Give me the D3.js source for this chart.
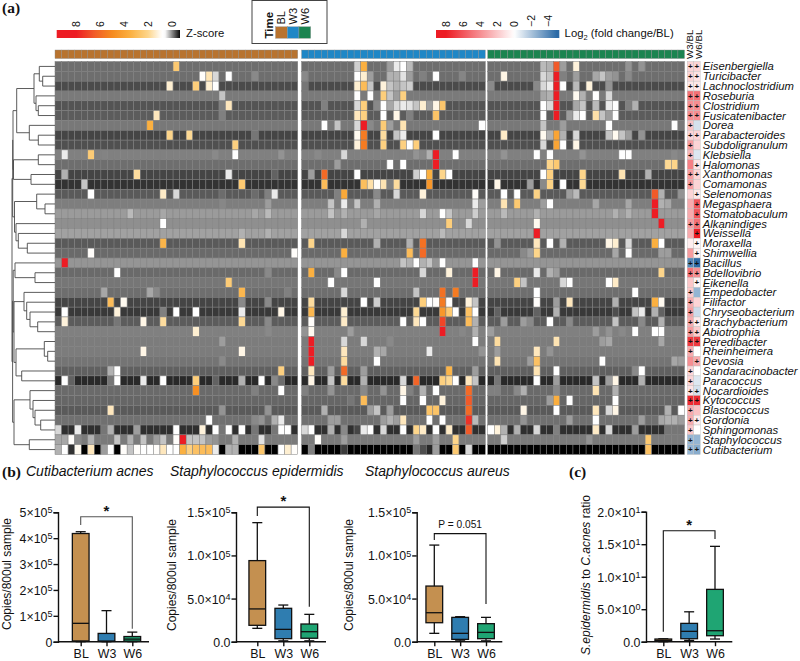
<!DOCTYPE html>
<html>
<head>
<meta charset="utf-8">
<script src="https://cdn.jsdelivr.net/npm/d3@7"></script>
<style>
  body { margin: 0; background: #fff; }
  text { font-family: "Liberation Sans", Arial, sans-serif; fill: #111; }
</style>
</head>
<body>
<div id="chart"></div>
<script>
// ---- heatmap data ----
const taxa = ["Eisenbergiella","Turicibacter","Lachnoclostridium","Roseburia","Clostridium","Fusicatenibacter","Dorea","Parabacteroides","Subdoligranulum","Klebsiella","Halomonas","Xanthomonas","Comamonas","Selenomonas","Megasphaera","Stomatobaculum","Alkanindiges","Weissella","Moraxella","Shimwellia","Bacillus","Bdellovibrio","Eikenella","Empedobacter","Filifactor","Chryseobacterium","Brachybacterium","Abiotrophia","Peredibacter","Rheinheimera","Devosia","Sandaracinobacter","Paracoccus","Nocardioides","Kytococcus","Blastococcus","Gordonia","Sphingomonas","Staphylococcus","Cutibacterium"];
const groups = ["BL","W3","W6"];
const groupCols = [37, 28, 30];

// usual z-score of each taxon, cells that stand out are listed below
const rowBase = [-.14,-.14,-.32,-.08,-.27,-.23,-.09,-.35,-.29,-.05,-.14,-.35,-.44,-.24,-.06,.09,.03,.12,-.24,-.16,.06,-.16,-.10,-.14,-.35,-.41,-.23,-.05,-.07,-.07,-.11,-.21,-.49,-.16,-.18,-.24,-.13,-.46,-.08,-.7];

// [row, column, z]
const blCells = [
 [0,18,2.5],
 [1,22,.9],[1,23,1.6],[1,24,.4],[1,26,.75],[1,30,0],
 [2,17,1.3],[2,21,2.3],[2,23,1.3],[2,24,.8],
 [3,25,.3],[4,26,1.5],[4,25,-.05],[5,15,1.5],[5,25,-.05],[6,14,3.5],
 [7,17,2],[7,20,1.9],[7,30,-.1],[8,27,2.2],
 [9,1,.5],[9,5,2.4],[9,6,-.05],[9,7,-.03],[9,24,0],[9,27,.75],[9,34,.05],
 [11,1,.2],[11,12,1.8],[11,26,.5],[11,33,-.2],
 [12,4,.3],[12,28,2.5],
 [13,5,.75],[13,16,1.4],[13,18,.4],[13,25,-.15],[13,30,-.15],[13,32,-.05],[13,33,.5],
 [14,25,-.01],[14,32,.1],
 [15,11,.25],[15,16,.15],[15,30,.15],[15,32,.25],
 [16,16,.75],[17,28,.2],[17,32,.2],
 [18,16,3.3],[18,28,1.6],[19,5,.9],[19,36,.9],[20,1,8],
 [21,9,.75],[21,32,0],[22,26,2.4],
 [23,7,.15],[23,14,.15],[23,15,0],[23,28,3.2],[23,35,-.05],
 [24,8,3],[24,10,1],[24,28,0],[24,32,0],
 [25,1,.75],[25,9,1.2],[25,16,-.05],[25,18,.75],[25,21,.75],[25,28,.5],[25,34,1.1],
 [26,1,1.2],[26,9,-.1],[26,13,1.1],[26,16,1.8],[26,28,1.9],[26,32,0],
 [27,21,1.3],[27,32,0],[28,25,.1],[29,13,1.1],[29,28,1.1],[30,25,0],
 [31,8,.2],[31,9,.8],[31,34,2.2],
 [32,1,.75],[32,2,-.2],[32,8,-.1],[32,9,.75],[32,13,.5],[32,16,.75],[32,21,2.3],[32,24,-.2],[32,28,.2],[32,31,.75],[32,33,0],[32,34,-.15],
 [33,21,4.8],[33,30,-.05],[33,34,.75],
 [35,8,1.5],[35,25,.05],[35,32,.05],
 [36,23,.75],[36,30,0],[36,31,.05],[36,33,.2],[36,34,.5],
 [37,0,.4],[37,3,.5],[37,7,-.1],[37,8,.2],[37,12,.1],[37,18,.75],[37,22,1.2],[37,24,.75],[37,25,-.1],[37,26,.75],[37,28,.75],[37,30,-.1],[37,33,-.1],[37,34,.6],[37,35,.8],
 [38,0,.15],[38,1,.15],[38,2,.9],[38,3,0],[38,5,.2],[38,9,.3],[38,11,.2],[38,13,.3],[38,15,.1],[38,16,.3],[38,18,.9],[38,19,8],[38,20,.3],[38,21,.3],[38,22,.3],[38,23,.1],[38,24,.05],[38,27,.2],[38,31,.45],
 [39,0,.2],[39,1,.8],[39,2,-.45],[39,3,1],[39,5,1.5],[39,7,.1],[39,8,.8],[39,10,.9],[39,11,.3],[39,12,.9],[39,13,.85],[39,14,.85],[39,15,.9],[39,16,1.5],[39,17,.8],[39,18,.85],[39,19,3.5],[39,20,2.2],[39,21,2.8],[39,22,3],[39,23,3],[39,24,.5],[39,26,.2],[39,27,.2],[39,31,2.6],[39,34,.8],[39,35,1.3],[39,36,.9]
];
const w3Cells = [
 [0,8,.35],[0,9,3.5],[0,13,.1],[0,14,.5],[0,15,.75],[0,16,.25],
 [1,0,0],[1,8,.75],[1,9,1.3],[1,10,.1],[1,13,.2],[1,14,.2],[1,15,.45],[1,16,.1],[1,18,-.05],[1,20,.8],[1,24,-.02],
 [2,0,-.1],[2,8,1.3],[2,9,3],[2,10,.3],[2,12,1.2],[2,13,.3],[2,14,.2],[2,15,.3],[2,16,.35],
 [3,8,.75],[3,10,.75],[3,12,2.3],[3,13,.3],[3,14,.1],[3,15,2.2],
 [4,3,-.05],[4,8,.4],[4,9,2.3],[4,11,0],[4,12,.7],[4,13,.15],[4,14,.4],[4,15,.5],[4,16,.45],[4,17,.3],[4,18,1.3],[4,19,.1],[4,20,1.1],[4,21,2.6],
 [5,8,1.5],[5,9,2.2],[5,12,.75],[5,14,1.1],[5,16,-.05],[5,20,2.7],
 [6,3,.75],[6,5,.3],[6,8,.4],[6,9,8],[6,10,0],[6,12,2.4],[6,13,.1],[6,15,1.6],[6,27,.8],
 [7,8,1],[7,9,5.5],[7,12,1.8],[7,14,.3],[7,15,.5],[7,20,.85],
 [8,8,1.2],[8,9,5.5],[8,12,2.2],[8,15,2.2],[8,16,.85],[8,17,2.3],
 [9,1,-.05],[9,2,0],[9,3,-.05],[9,6,.4],[9,17,.05],[9,18,0],[9,19,.2],[9,20,8],[9,23,.85],
 [10,5,.1],[10,13,.8],[10,15,.8],[10,20,8],
 [11,1,.1],[11,3,6],[11,8,.8],[11,17,.35],[11,18,.8],[11,19,3.5],[11,21,2],[11,22,.85],
 [12,3,3],[12,9,2.9],[12,10,1.7],[12,11,.9],[12,12,1.6],[12,13,-.05],[12,14,1.8],[12,19,4.5],
 [13,5,-.05],[13,6,3.8],[13,11,0],[13,14,.4],[13,18,1.2],[13,26,.9],
 [14,4,.3],[14,6,.5],[14,8,.3],[14,11,.2],[14,26,.5],[14,27,.1],
 [15,4,.3],[15,6,.2],[15,11,.15],[15,18,.4],[15,21,.75],[15,22,.3],[15,26,.35],
 [16,9,.2],[16,22,2.3],[16,25,.4],[17,6,.4],[17,21,.25],
 [18,1,2],[18,11,.2],[18,16,.2],[18,18,5.8],[19,6,3.5],[19,16,3],[19,18,6],
 [20,15,.3],[20,16,.2],[20,17,.75],[20,18,.2],[20,19,.3],[20,21,.8],[20,26,.75],
 [21,1,3.5],[21,5,0],[21,6,.8],[21,18,.4],[21,22,1.2],[21,26,8],
 [22,4,.8],[22,11,.8],[22,26,8],
 [23,6,.4],[23,17,.3],[23,21,5.8],[23,23,5.5],
 [24,1,1.8],[24,9,.85],[24,11,.35],[24,18,2.3],[24,19,.75],[24,20,.9],[24,21,5.5],[24,22,.9],[24,25,1.2],[24,26,.3],
 [25,1,3.2],[25,6,1.3],[25,17,1.9],[25,21,4.5],[25,22,2.5],[25,23,.8],[25,25,2.8],[25,26,.8],
 [26,1,.9],[26,6,1.4],[26,15,.6],[26,17,1.5],[26,18,.75],[26,21,7],[26,25,3],[26,26,.2],
 [27,0,.05],[27,1,1],[27,7,.1],[27,21,8],[27,24,-.01],[27,26,.2],
 [28,1,8],[28,6,.4],[28,9,.4],[28,13,0],[28,26,.6],
 [29,1,8],[29,6,1.5],[29,11,.2],[29,12,.15],[29,19,.5],[29,27,.05],
 [30,1,8],[30,6,1.8],[30,11,.8],
 [31,1,1.5],[31,4,.1],[31,6,6],[31,9,.1],[31,22,3.3],[31,26,.1],
 [32,1,1.1],[32,4,.3],[32,6,1.8],[32,9,.2],[32,15,.4],[32,17,6.2],[32,21,2.2],[32,22,1.9],[32,23,.85],[32,25,1.5],[32,26,.3],
 [33,0,-.05],[33,4,.05],[33,9,0],[33,12,.05],[33,15,1.1],[33,16,-.05],[33,18,.2],[33,20,.85],[33,25,6],
 [34,7,-.1],[34,9,3],[34,15,.8],[34,18,.8],[34,21,1.2],[34,25,6.5],
 [35,3,.2],[35,10,.1],[35,11,.3],[35,13,.1],[35,19,2.7],[35,20,2.7],[35,25,6],
 [36,4,.1],[36,5,.1],[36,12,.1],[36,13,.2],[36,14,.1],[36,15,1.5],[36,19,.75],[36,21,.85],[36,25,7.5],[36,26,.25],
 [37,0,.4],[37,1,.75],[37,4,.2],[37,6,0],[37,8,-.35],[37,9,.5],[37,10,.6],[37,12,.4],[37,15,.75],[37,17,2],[37,18,1.4],[37,20,.85],[37,22,1.4],[37,25,6.5],
 [38,2,.9],[38,6,.1],[38,17,.1],[38,20,.1],[38,23,2],
 [39,1,-.05],[39,6,-.4],[39,17,-.1],[39,18,-.3],[39,19,-.5],[39,20,.1],[39,23,2.5],[39,25,.4]
];
const w6Cells = [
 [0,8,.25],[0,9,.2],[0,10,6.5],[0,11,.1],[0,13,1.2],[0,21,.05],[0,23,.05],
 [1,2,1.1],[1,8,.4],[1,9,.3],[1,10,8],[1,11,-.05],[1,13,.1],[1,16,.15],[1,17,.3],[1,18,.1],[1,19,.05],[1,21,0],
 [2,0,0],[2,7,0],[2,8,.4],[2,9,.5],[2,10,8],[2,11,.75],[2,13,.25],[2,15,1.2],[2,18,.05],
 [3,8,.15],[3,9,.2],[3,10,8],[3,13,1],[3,14,.2],[3,16,.75],[3,18,.4],
 [4,8,.75],[4,9,.4],[4,10,8],[4,13,.15],[4,14,.3],[4,16,.25],[4,18,.5],[4,19,.75],[4,21,-.05],[4,22,.2],
 [5,8,.75],[5,10,8],[5,12,.1],[5,13,.5],[5,14,.75],[5,16,1.7],[5,17,.3],[5,18,.1],[5,19,.75],
 [6,8,.3],[6,11,.1],[6,18,.75],[6,28,.75],
 [7,2,1.4],[7,8,1],[7,9,.2],[7,10,4],[7,11,.2],[7,13,.4],[7,18,.3],[7,19,1],[7,20,.3],[7,21,.1],[7,23,.05],
 [8,8,.4],[8,10,4],[8,11,.8],[8,13,1.1],
 [9,2,.05],[9,7,.75],[9,9,.6],[9,14,.05],[9,20,.75],[9,21,.75],[9,28,0],[9,29,-.03],
 [10,9,2],[10,10,2.5],[10,27,1.9],[10,28,2],
 [11,8,.85],[11,9,2.2],[11,14,2],[11,20,1.6],[11,24,.2],
 [12,1,1.1],[12,6,.1],[12,8,0],[12,9,2.1],[12,11,.85],[12,14,1.9],
 [13,2,.75],[13,4,.85],[13,7,2.1],[13,12,.1],[13,13,.25],[13,25,6.5],[13,26,.2],[13,29,.05],
 [14,2,1.6],[14,4,2.5],[14,8,.1],[14,9,.6],[14,16,.15],[14,21,.15],[14,25,8],[14,26,.2],[14,27,.15],
 [15,2,.25],[15,7,.2],[15,19,.2],[15,21,.2],[15,25,8],
 [16,7,1],[16,26,8],[17,7,8],
 [18,1,.05],[18,7,1.5],[18,9,.6],[18,11,.2],[18,18,1.1],[18,19,1.3],[18,21,.4],[18,25,3.5],[18,26,.7],
 [19,5,0],[19,6,.1],[19,7,2],[19,19,.15],[19,21,.75],[19,26,.1],[19,27,.1],
 [21,1,1.1],[21,7,.5],[21,9,.2],[21,10,.1],[21,26,2],
 [22,4,2.2],[22,5,.3],[22,11,.4],[22,12,.8],[22,18,.75],[22,19,1.4],
 [23,7,.75],[23,22,.7],
 [24,7,.9],[24,10,.1],[24,12,1.5],[24,19,.2],[24,25,3.5],[24,26,1],
 [25,1,-.2],[25,7,-.2],[25,10,.2],[25,19,-.3],[25,22,.3],[25,23,.5],[25,25,.2],[25,26,-.2],
 [26,2,.1],[26,5,.1],[26,6,0],[26,9,.85],[26,12,0],[26,19,.3],[26,23,0],[26,26,.2],
 [27,0,.1],[27,16,.1],[27,18,.05],[27,20,0],[27,22,.75],[27,25,.8],[27,26,.75],
 [28,1,1.8],[28,10,1.6],[28,17,.1],[28,18,.15],[28,26,.15],
 [29,1,.1],[29,7,1.5],[29,9,.05],
 [30,1,1.6],[30,6,.1],[30,7,2.8],[30,17,.6],[30,28,.15],[30,29,.1],
 [31,7,1.6],[31,10,.85],[31,22,0],[31,23,.7],
 [32,1,-.1],[32,7,.85],[32,10,.1],[32,16,.3],[32,18,.1],[32,19,1.1],[32,23,.2],
 [33,0,-.05],[33,1,-.05],[33,4,0],[33,5,.2],[33,10,0],[33,16,1.6],[33,19,.2],
 [34,9,.1],[34,10,3.6],[34,12,.85],[34,19,.75],
 [35,5,1.1],[35,10,.85],[35,16,1.5],[35,18,.4],[35,19,1.1],[35,27,.2],[35,29,.85],
 [36,5,.05],[36,12,.1],[36,16,.75],[36,23,.1],[36,26,.15],[36,27,.2],[36,28,.2],[36,29,.1],
 [37,0,.8],[37,1,1.2],[37,2,.2],[37,4,.2],[37,7,.4],[37,10,-.05],[37,16,1.4],[37,18,.4],[37,22,.1],[37,27,-.1],[37,28,-.1],[37,29,-.1],
 [38,2,.35],[38,15,.05],[38,24,2.5],
 [39,24,2.8]
];
const cellsByGroup = [blCells, w3Cells, w6Cells];

// log2 fold change against baseline, and which of them carry a plus
const foldW3 = [1.5,1.5,.8,5,4,4,2.2,1.5,3.5,2.5,4.5,3.5,3.5,1.5,3,3,3.5,3,.6,3.5,-4,5,2,2,3,3.5,3,3.5,7,3,4,1.5,1.5,1,7.5,3,3,2,-2.5,-2.5];
const foldW6 = [1.5,1,.8,5,4,4,-1,1.5,1.5,-.8,1,1.5,1.5,.8,6,6,5,8,.3,.5,-7,4,.4,-2.5,1.5,-1.2,.7,1.8,7,0,3,0,-.8,-1,7.5,2.2,.7,0,-2.5,-2.8];
const plusW3 = [1,1,1,1,1,1,1,1,1,1,0,1,1,0,0,0,1,0,0,0,1,1,0,1,1,1,1,1,1,1,0,1,1,1,1,1,1,1,1,1];
const plusW6 = [1,1,1,1,1,1,0,1,0,0,1,1,0,1,1,1,1,1,1,1,1,1,1,0,0,0,1,1,1,0,1,0,0,1,1,0,1,0,0,1];

// merges of the row tree: [height, left, right], a plain number is a row
const rowTree = [43,
  [42.3,
    [42,
      [38.3,
        [21, [15.7, 0, [12.3, 1, 2]], [19, 3, [16.7, 4, 5]]],
        [25.7, 6, [16.7, 7, 8]]],
      [41.5, [16.7, 9, 10], [24, 11, 12]]],
    [40.5,
      [18.3, 13, [10, 14, 15]],
      [39, 16, [36.7, 17, [27.7, 18, 19]]]]],
  [42.4,
    [41.8,
      [40, 20, [20, 21, 22]],
      [41,
        [31, 23, [28.3, 24, [25, 25, [17.3, 26, 27]]]],
        [39, [10.7, 28, [7.3, 29, 30]], [33.3, 31, 32]]]],
    [41,
      [25, 33, [22, 34, [20, 35, [14.3, 36, 37]]]],
      [25.7, 38, 39]]]
];

// ---- legends ----
const zStops = [-.7, .6, .85, 2, 3.5, 5, 6.5, 8];
const zColors = ["#000000", "#ffffff", "#ffffff", "#fdd58a", "#fbb040", "#f68b1f", "#f15a29", "#ed1c24"];
const zTicks = [8, 6, 4, 2, 0];
const fcStops = [-5, 0, 8];
const fcColors = ["#2b6aa6", "#ffffff", "#ed1c24"];
const fcTicks = [8, 6, 4, 2, 0, -2, -4];
const groupColors = ["#b8732f", "#1f87c6", "#1b8450"];

// ---- copies / ratio box plots: [low, q1, median, q3, high] ----
const boxCats = ["BL", "W3", "W6"];
const boxFills = ["#c49050", "#2f7db0", "#1fa573"];
const acnesBoxes = [[0, 3e3, 7.1e4, 4.18e5, 4.25e5], [0, 1e3, 2e3, 3.2e4, 1.2e5], [0, 2e3, 1e4, 2e4, 3.7e4]];
const epiBoxes = [[1.55e4, 1.9e4, 3.8e4, 9.4e4, 1.38e5], [1e3, 3.5e3, 1.43e4, 3.87e4, 4.25e4], [1e3, 4e3, 1.16e4, 2.05e4, 3.17e4]];
const aureusBoxes = [[9.7e3, 2.2e4, 3.36e4, 6.45e4, 1.12e5], [1e3, 2.7e3, 9.7e3, 2.82e4, 2.9e4], [1e3, 3.5e3, 1.08e4, 2.09e4, 2.82e4]];
const ratioBoxes = [[0, .05, .2, .41, .45], [.2, .46, 1.59, 2.82, 4.6], [.41, .92, 1.69, 8.05, 14.67]];
const acnesTicks = [0, 1e5, 2e5, 3e5, 4e5, 5e5];
const acnesLabels = [["0"], ["1×10", "5"], ["2×10", "5"], ["3×10", "5"], ["4×10", "5"], ["5×10", "5"]];
const copyTicks = [0, 5e4, 1e5, 1.5e5];
const copyLabels = [["0.0"], ["5.0×10", "4"], ["1.0×10", "5"], ["1.5×10", "5"]];
const ratioTicks = [0, 5, 10, 15, 20];
const ratioLabels = [["0.0"], ["5.0×10", "0"], ["1.0×10", "1"], ["1.5×10", "1"], ["2.0×10", "1"]];
// bracket: [left foot, top, right foot] in axis units
const acnesBracket = [4.51e5, 4.83e5, 0.5e5];
const epiBracket = [1.457e5, 1.56e5, 0.406e5];
const aureusBracket = [1.18e5, 1.253e5, 0.437e5];
const ratioBracket = [1.54, 17.08, 15.8];

const svg = d3.select("#chart").append("svg").attr("width", 800).attr("height", 661);
const defs = svg.append("defs");

const zColor = d3.scaleLinear().domain(zStops).range(zColors).clamp(true);
const fcColor = d3.scaleLinear().domain(fcStops).range(fcColors).clamp(true);

// panel letters
function panelLetter(s, x, y) {
  svg.append("text").attr("x", x).attr("y", y).text(s)
    .style("font-family", "'Liberation Serif', serif").style("font-weight", "bold").style("font-size", "15.5px");
}
panelLetter("(a)", 2, 13);
panelLetter("(b)", 2, 477);
panelLetter("(c)", 569, 477);

// ---- heatmap ----
const cellW = 6.56;
const groupX = [55, 301.6, 487.7];
const y = d3.scaleBand().domain(d3.range(taxa.length)).range([61.5, 454.5]);
const heat = svg.append("g");

groups.forEach((g, i) => {
  const n = groupCols[i];
  const x = d3.scaleBand().domain(d3.range(n)).range([groupX[i], groupX[i] + n * cellW]);
  const over = new Map(cellsByGroup[i].map(d => [d[0] + "_" + d[1], d[2]]));
  // annotation strip
  heat.append("g").selectAll("rect").data(d3.range(n)).join("rect")
    .attr("x", d => x(d)).attr("y", 50).attr("width", x.bandwidth()).attr("height", 8.5)
    .attr("fill", groupColors[i]).attr("stroke", "#8c8c8c").attr("stroke-width", 0.4);
  const cells = d3.cross(d3.range(taxa.length), d3.range(n));
  heat.append("g").selectAll("rect").data(cells).join("rect")
    .attr("x", d => x(d[1])).attr("y", d => y(d[0]))
    .attr("width", x.bandwidth()).attr("height", y.bandwidth())
    .attr("fill", d => {
      const k = d[0] + "_" + d[1];
      return zColor(over.has(k) ? over.get(k) : rowBase[d[0]]);
    })
    .attr("stroke", "#7f7f7f").attr("stroke-width", 0.5);
});

// row labels
svg.append("g").selectAll("text").data(taxa).join("text")
  .attr("x", 702.8).attr("y", (d, i) => y(i) + y.bandwidth() / 2 + 4)
  .style("font-style", "italic").style("font-size", "11.3px").text(d => d);

// fold change columns
const foldX = d3.scaleBand().domain(["W3/BL", "W6/BL"]).range([687.2, 700.2]);
[[foldW3, plusW3, "W3/BL", 3], [foldW6, plusW6, "W6/BL", 4.6]].forEach(([vals, plus, name, nudge]) => {
  const g = svg.append("g");
  g.selectAll("rect").data(vals).join("rect")
    .attr("x", foldX(name)).attr("y", (d, i) => y(i))
    .attr("width", foldX.bandwidth()).attr("height", y.bandwidth())
    .attr("fill", d => fcColor(d)).attr("stroke", "#bdbdbd").attr("stroke-width", 0.4);
  g.selectAll("text").data(plus).join("text")
    .attr("x", foldX(name) + foldX.bandwidth() / 2).attr("y", (d, i) => y(i) + y.bandwidth() / 2 + 2.9)
    .attr("text-anchor", "middle").style("font-size", "8px").style("font-weight", "bold")
    .text(d => d ? "+" : "");
  svg.append("text")
    .attr("transform", `translate(${foldX(name) + foldX.bandwidth() / 2 + nudge},59) rotate(-90)`)
    .style("font-size", "9.8px").text(name);
});

// dendrogram
const dendroX = d3.scaleLinear().domain([0, 43]).range([55, 12]);
const dendro = svg.append("g").attr("fill", "none").attr("stroke", "#4a4a4a").attr("stroke-width", 0.9);
function drawTree(node) {
  if (typeof node === "number") return { pos: y(node) + y.bandwidth() / 2, h: 0 };
  const a = drawTree(node[1]), b = drawTree(node[2]);
  const px = dendroX(node[0]);
  const p = d3.path();
  p.moveTo(dendroX(a.h), a.pos); p.lineTo(px, a.pos); p.lineTo(px, b.pos); p.lineTo(dendroX(b.h), b.pos);
  dendro.append("path").attr("d", p.toString());
  return { pos: (a.pos + b.pos) / 2, h: node[0] };
}
drawTree(rowTree);

// gradient legends
function gradient(id, scale, x0, x1, color) {
  const grad = defs.append("linearGradient").attr("id", id);
  d3.range(0, 1.0001, 0.02).forEach(t => {
    grad.append("stop").attr("offset", t).attr("stop-color", color(scale.invert(x0 + t * (x1 - x0))));
  });
}
const zLegendX = d3.scaleLinear().domain([8, 0]).range([76, 172]);
gradient("zgrad", zLegendX, 56.7, 180, zColor);
svg.append("rect").attr("x", 56.7).attr("y", 30).attr("width", 123.3).attr("height", 8).attr("fill", "url(#zgrad)");
svg.append("g").selectAll("text").data(zTicks).join("text")
  .attr("transform", d => `translate(${zLegendX(d) + 3.5},27) rotate(-90)`)
  .style("font-size", "10.5px").text(d => d);
svg.append("text").attr("x", 186).attr("y", 36.5).style("font-size", "11.3px").text("Z-score");

const fcLegendX = d3.scaleLinear().domain([8, -4]).range([446, 548.3]);
gradient("fcgrad", fcLegendX, 436, 559.3, fcColor);
svg.append("rect").attr("x", 436).attr("y", 30).attr("width", 123.3).attr("height", 8).attr("fill", "url(#fcgrad)");
svg.append("g").selectAll("text").data(fcTicks).join("text")
  .attr("transform", d => `translate(${fcLegendX(d) + 3.5},27) rotate(-90)`)
  .style("font-size", "10.5px").text(d => d < 0 ? "−" + (-d) : d);
const fcTitle = svg.append("text").attr("x", 564.6).attr("y", 37).style("font-size", "11.3px");
fcTitle.append("tspan").text("Log");
fcTitle.append("tspan").attr("dy", 3).style("font-size", "7.5px").text("2");
fcTitle.append("tspan").attr("dy", -3).text(" (fold change/BL)");

// time legend
svg.append("rect").attr("x", 252).attr("y", 0.5).attr("width", 75).attr("height", 43)
  .attr("fill", "#fff").attr("stroke", "#444").attr("stroke-width", 1);
svg.append("text").attr("transform", "translate(272.5,38.5) rotate(-90)")
  .style("font-size", "11.5px").style("font-weight", "bold").text("Time");
const swatchX = d3.scaleBand().domain(groups).range([275.5, 310.7]);
svg.append("g").selectAll("rect").data(groups).join("rect")
  .attr("x", d => swatchX(d)).attr("y", 26.7).attr("width", swatchX.bandwidth()).attr("height", 11.6)
  .attr("fill", (d, i) => groupColors[i]).attr("stroke", "#999").attr("stroke-width", 0.4);
svg.append("g").selectAll("text").data(groups).join("text")
  .attr("transform", d => `translate(${swatchX(d) + swatchX.bandwidth() / 2 + 3.8},24.5) rotate(-90)`)
  .style("font-size", "11px").text(d => d);

// ---- box plots ----
function boxPanel(opt) {
  const g = svg.append("g");
  const yS = d3.scaleLinear().domain(opt.domain).range([641.7, opt.top]);
  const xS = d3.scalePoint().domain(boxCats).range(opt.cats);
  const boxW = 16.7;

  const yAxis = g.append("g").attr("transform", `translate(${opt.x0},0)`)
    .call(d3.axisLeft(yS).tickValues(opt.ticks).tickSize(4.5).tickFormat(""));
  yAxis.selectAll("text").each(function (d, i) {
    const t = d3.select(this).text(null).style("font-size", "12.4px").attr("text-anchor", "end").attr("x", -5.5).attr("dy", "0.36em");
    t.append("tspan").text(opt.labels[i][0]);
    if (opt.labels[i][1]) t.append("tspan").attr("dy", "-0.42em").style("font-size", "9px").text(opt.labels[i][1]);
  });
  const xAxis = g.append("g").attr("transform", "translate(0,641.7)")
    .call(d3.axisBottom(xS).tickSize(4.5));
  xAxis.selectAll("text").style("font-size", "12.4px").attr("y", 7.3);
  xAxis.select(".domain").attr("d", `M${opt.x0},0H${opt.x1}`);
  g.selectAll(".domain, .tick line").attr("stroke", "#111").attr("stroke-width", 1.4);

  boxCats.forEach((c, i) => {
    const [lo, q1, med, q3, hi] = opt.boxes[i];
    const cx = xS(c);
    const b = g.append("g").attr("stroke", "#111").attr("stroke-width", 1.3);
    b.append("line").attr("x1", cx).attr("x2", cx).attr("y1", yS(lo)).attr("y2", yS(hi));
    b.selectAll(".cap").data([lo, hi]).join("line").attr("class", "cap")
      .attr("x1", cx - boxW * 0.3).attr("x2", cx + boxW * 0.3).attr("y1", d => yS(d)).attr("y2", d => yS(d));
    b.append("rect").attr("x", cx - boxW / 2).attr("width", boxW)
      .attr("y", yS(q3)).attr("height", yS(q1) - yS(q3)).attr("fill", boxFills[i]);
    b.append("line").attr("x1", cx - boxW / 2).attr("x2", cx + boxW / 2).attr("y1", yS(med)).attr("y2", yS(med));
  });

  // significance bracket from BL to W6
  const p = d3.path();
  p.moveTo(xS("BL"), yS(opt.bracket[0]));
  p.lineTo(xS("BL"), yS(opt.bracket[1]));
  p.lineTo(xS("W6"), yS(opt.bracket[1]));
  p.lineTo(xS("W6"), yS(opt.bracket[2]));
  g.append("path").attr("d", p.toString()).attr("fill", "none").attr("stroke", opt.bracketColor || "#111").attr("stroke-width", 1.1);
  g.append("text").attr("x", xS("W3")).attr("y", yS(opt.bracket[1]) + opt.markDy)
    .attr("text-anchor", "middle").style("font-size", opt.markSize).style("font-weight", opt.markWeight || "bold").text(opt.mark);

  const yl = g.append("text").attr("transform", `translate(${opt.labelX},${opt.labelY}) rotate(-90)`)
    .attr("text-anchor", "middle").style("font-size", "12px");
  opt.ylabel.forEach(part => {
    yl.append("tspan").style("font-style", part[1] ? "italic" : "normal").text(part[0]);
  });
}

boxPanel({ x0: 58, x1: 149, cats: [80.7, 132.3], domain: [0, 5e5], top: 512.3, ticks: acnesTicks, labels: acnesLabels,
  boxes: acnesBoxes, bracket: acnesBracket, bracketColor: "#555", mark: "*", markSize: "15px", markDy: -1,
  labelX: 11, labelY: 574, ylabel: [["Copies/800ul sample", 0]] });
boxPanel({ x0: 236, x1: 326, cats: [257.3, 309.3], domain: [0, 1.5e5], top: 512.3, ticks: copyTicks, labels: copyLabels,
  boxes: epiBoxes, bracket: epiBracket, mark: "*", markSize: "15px", markDy: -1,
  labelX: 176, labelY: 575, ylabel: [["Copies/800ul sample", 0]] });
boxPanel({ x0: 416.7, x1: 502.3, cats: [434.3, 486], domain: [0, 1.5e5], top: 512.3, ticks: copyTicks, labels: copyLabels,
  boxes: aureusBoxes, bracket: aureusBracket, mark: "P = 0.051", markSize: "10.2px", markWeight: "normal", markDy: -6,
  labelX: 353, labelY: 575, ylabel: [["Copies/800ul sample", 0]] });
boxPanel({ x0: 646, x1: 732.3, cats: [663.3, 715], domain: [0, 20], top: 511.7, ticks: ratioTicks, labels: ratioLabels,
  boxes: ratioBoxes, bracket: ratioBracket, mark: "*", markSize: "15px", markDy: -1,
  labelX: 590, labelY: 575, ylabel: [["S.epidermidis", 1], [" to ", 0], ["C.acnes", 1], [" ratio", 0]] });

// species titles
[["Cutibacterium acnes", 26], ["Staphylococcus epidermidis", 170], ["Staphylococcus aureus", 365]].forEach(d => {
  svg.append("text").attr("x", d[1]).attr("y", 476).style("font-style", "italic").style("font-size", "14px").text(d[0]);
});
</script>
</body>
</html>
